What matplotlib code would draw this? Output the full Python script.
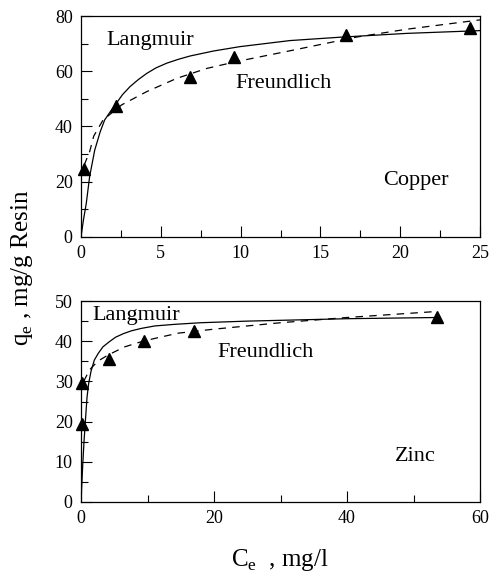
import matplotlib
matplotlib.use('Agg')
import matplotlib.pyplot as plt
from matplotlib.ticker import MultipleLocator

plt.rcParams['font.family'] = ['Liberation Serif', 'DejaVu Serif']
plt.rcParams['mathtext.fontset'] = 'custom'
plt.rcParams['mathtext.rm'] = 'Liberation Serif'

# ── Copper (top panel) ───────────────────────────────────────────────────────
cu_ce = [0.2, 2.2, 6.8, 9.6, 16.6, 24.4]
cu_qe = [24.5, 47.5, 58.0, 65.0, 73.0, 75.5]

cu_lang_x = [0.0, 0.15, 0.33, 0.54, 0.86, 1.2, 1.48, 1.82, 2.23, 2.6, 3.07,
             3.6, 4.12, 4.7, 5.37, 6.1, 6.83, 8.29, 9.96, 13.1, 16.2, 20.4,
             25.0]
cu_lang_y = [0.0, 6.0, 12.1, 21.8, 31.4, 38.0, 42.3, 45.2, 48.5, 51.5, 54.4,
             57.0, 59.2, 61.2, 62.9, 64.3, 65.5, 67.3, 68.9, 71.1, 72.3, 73.7,
             74.7]

cu_freu_x = [0.2, 0.54, 0.8, 1.38, 2.55, 4.12, 6.0, 7.88, 9.76, 13.1, 17.3,
             20.4, 25.0]
cu_freu_y = [26.0, 30.8, 36.5, 42.3, 47.8, 52.6, 57.4, 61.0, 63.5, 67.4,
             72.4, 75.2, 78.6]

# ── Zinc (bottom panel) ──────────────────────────────────────────────────────
zn_ce = [0.1, 0.2, 4.2, 9.5, 17.0, 53.5]
zn_qe = [19.5, 29.5, 35.5, 40.0, 42.5, 46.0]

zn_lang_x = [0.0, 0.25, 0.45, 0.65, 0.9, 1.15, 1.5, 2.0, 2.6, 3.3, 4.2, 5.2,
             6.4, 7.6, 9.1, 11.1, 14.1, 18.0, 25.0, 30.0, 40.0, 53.5]
zn_lang_y = [0.0, 9.0, 15.0, 20.0, 26.0, 29.5, 32.5, 35.3, 37.0, 38.6, 39.8,
             41.0, 41.9, 42.6, 43.2, 43.8, 44.2, 44.6, 45.0, 45.2, 45.6, 45.9]

zn_freu_x = [0.4, 1.25, 2.5, 4.1, 6.57, 9.1, 11.1, 14.6, 20.0, 30.0, 40.0,
             53.5]
zn_freu_y = [30.0, 32.8, 35.0, 36.6, 38.6, 39.9, 40.7, 42.0, 43.0, 44.6,
             45.9, 47.4]

fig = plt.figure(figsize=(4.91, 5.78), dpi=100)
ax1 = fig.add_axes([0.165, 0.5905, 0.8126, 0.3818])
ax2 = fig.add_axes([0.165, 0.1315, 0.8126, 0.3477])

panels = [
    (ax1, cu_ce, cu_qe, cu_lang_x, cu_lang_y, cu_freu_x, cu_freu_y,
     (0, 25), (0, 80), 5, 2.5, 20, 10),
    (ax2, zn_ce, zn_qe, zn_lang_x, zn_lang_y, zn_freu_x, zn_freu_y,
     (0, 60), (0, 50), 20, 10, 10, 5),
]

for (ax, ce, qe, lx, ly, fx, fy, xlim, ylim,
     xmaj, xmin, ymaj, ymin) in panels:
    ax.plot(lx, ly, color='black', lw=0.9)
    ax.plot(fx, fy, color='black', lw=0.9, dashes=(6, 5))
    ax.plot(ce, qe, linestyle='none', marker='^', color='black', ms=9,
            clip_on=False, zorder=5)
    ax.set_xlim(*xlim)
    ax.set_ylim(*ylim)
    ax.xaxis.set_major_locator(MultipleLocator(xmaj))
    ax.xaxis.set_minor_locator(MultipleLocator(xmin))
    ax.yaxis.set_major_locator(MultipleLocator(ymaj))
    ax.yaxis.set_minor_locator(MultipleLocator(ymin))
    ax.tick_params(which='both', direction='in', top=False, right=False,
                   labelsize=13, width=0.8)
    ax.tick_params(which='major', length=8, pad=6)
    ax.tick_params(which='minor', length=5)
    for sp in ax.spines.values():
        sp.set_linewidth(0.9)

ax1.text(1.6, 71, 'Langmuir', fontsize=16, va='center')
ax1.text(9.7, 55.7, 'Freundlich', fontsize=16, va='center')
ax1.text(18.9, 20.5, 'Copper', fontsize=16, va='center')

ax2.text(1.65, 46.3, 'Langmuir', fontsize=16, va='center')
ax2.text(20.5, 37.3, 'Freundlich', fontsize=16, va='center')
ax2.text(47.2, 11.2, 'Zinc', fontsize=16, va='center')

fig.text(22 / 491, 1 - 268 / 578, r'q$_\mathregular{e}$ , mg/g Resin',
         rotation=90, fontsize=18, ha='center', va='center')
fig.text(280 / 491, 1 - 560 / 578, r'C$_\mathregular{e}$  , mg/l',
         fontsize=18, ha='center', va='center')

plt.savefig('out.png', dpi=100)
